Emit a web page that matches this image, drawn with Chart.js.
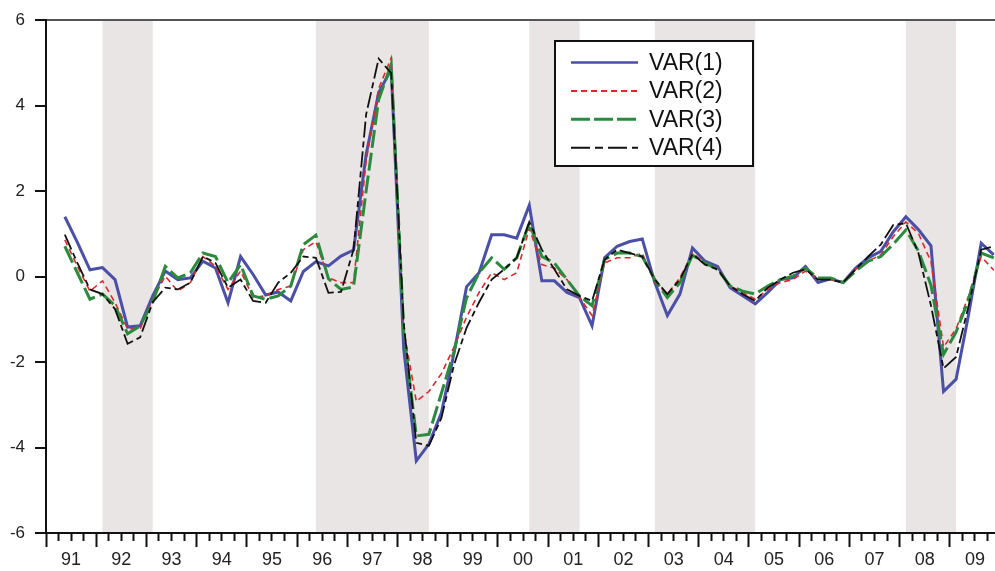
<!DOCTYPE html>
<html><head><meta charset="utf-8">
<script src="https://cdn.jsdelivr.net/npm/chart.js@4.4.1/dist/chart.umd.min.js"></script>
<style>html,body{margin:0;padding:0;background:#fff;overflow:hidden}canvas{display:block}</style>
</head><body>
<canvas id="c" width="995" height="571"></canvas>
<script>
// Quarterly observations, 1991Q2 .. 2009Q4
const startYear = 1991;
const startQuarter = 2;
const seriesNames = ['VAR(1)', 'VAR(2)', 'VAR(3)', 'VAR(4)'];
const var1 = [1.40,0.80,0.16,0.21,-0.07,-1.18,-1.15,-0.45,0.13,-0.07,-0.03,0.36,0.20,-0.61,0.47,0.05,
  -0.43,-0.36,-0.57,0.12,0.35,0.25,0.48,0.62,2.85,4.30,4.85,-1.70,-4.31,-3.92,-3.19,-1.80,
  -0.24,0.09,0.98,0.98,0.90,1.67,-0.10,-0.10,-0.37,-0.49,-1.15,0.44,0.71,0.82,0.88,-0.14,
  -0.91,-0.41,0.67,0.36,0.24,-0.26,-0.45,-0.64,-0.37,-0.07,-0.03,0.24,-0.14,-0.05,-0.14,0.20,
  0.44,0.59,1.05,1.40,1.10,0.72,-2.69,-2.40,-0.88,0.78,0.51];
const var2 = [0.86,0.24,-0.34,-0.10,-0.61,-1.22,-1.22,-0.53,0.01,-0.34,-0.14,0.47,0.24,-0.30,0.13,-0.49,
  -0.45,-0.30,-0.22,0.63,0.82,-0.03,-0.14,-0.14,2.70,4.40,5.12,-1.25,-2.92,-2.69,-2.27,-1.65,
  -0.95,-0.37,0.09,-0.07,0.09,1.13,0.28,0.20,-0.07,-0.49,-0.91,0.32,0.44,0.44,0.55,-0.14,
  -0.41,-0.03,0.55,0.32,0.20,-0.22,-0.37,-0.53,-0.30,-0.14,-0.07,0.13,-0.03,-0.07,-0.14,0.17,
  0.36,0.51,0.94,1.28,1.01,0.35,-1.65,-1.22,-0.45,0.47,0.15];
const var3 = [0.71,0.09,-0.53,-0.41,-0.68,-1.34,-1.15,-0.60,0.24,-0.03,0.09,0.55,0.47,-0.14,0.28,-0.45,
  -0.53,-0.45,-0.22,0.75,0.97,-0.05,-0.30,-0.24,2.00,4.14,4.97,-1.30,-3.73,-3.69,-2.73,-1.76,
  -0.50,0.09,0.44,0.17,0.44,1.25,0.47,0.32,-0.07,-0.45,-0.68,0.40,0.55,0.55,0.47,-0.07,
  -0.49,-0.14,0.50,0.32,0.17,-0.22,-0.34,-0.41,-0.22,-0.07,0.01,0.20,-0.03,-0.03,-0.14,0.13,
  0.36,0.47,0.76,1.09,0.60,-0.20,-1.82,-1.30,-0.53,0.55,0.44];
const var4 = [0.98,0.32,-0.30,-0.41,-0.76,-1.57,-1.42,-0.60,-0.26,-0.30,-0.14,0.47,0.32,-0.26,-0.07,-0.57,
  -0.61,-0.14,0.09,0.47,0.44,-0.38,-0.36,0.63,3.79,5.10,4.76,-1.10,-3.89,-3.96,-3.31,-2.07,
  -1.20,-0.60,-0.07,0.17,0.44,1.28,0.63,0.17,-0.30,-0.45,-0.57,0.40,0.63,0.55,0.47,-0.07,
  -0.41,-0.07,0.53,0.28,0.17,-0.22,-0.41,-0.57,-0.26,-0.07,0.09,0.17,-0.07,-0.07,-0.14,0.17,
  0.47,0.75,1.21,1.25,0.55,-0.68,-2.15,-1.88,-0.68,0.63,0.71];
// Shaded periods (from quarter to quarter)
const bandStart = [1992.125, 1996.375, 2000.625, 2003.125, 2008.125];
const bandEnd   = [1993.125, 1998.625, 2001.625, 2005.125, 2009.125];
const yearLabels = ['91','92','93','94','95','96','97','98','99','00','01','02','03','04','05','06','07','08','09'];
const yMin = -6, yMax = 6, yStep = 2;

// period positions (centre of each quarter)
const periods = var1.map((_, i) => {
  const q0 = (startQuarter - 1) + i;
  const yr = startYear + Math.floor(q0 / 4);
  const q = (q0 % 4) + 1;
  return yr + (q - 0.5) / 4;
});
const pts = arr => arr.map((v, i) => ({x: periods[i], y: v}));

const FONT = '"Liberation Sans", Arial, Helvetica, sans-serif';

const bandPlugin = {
  id: 'bands',
  beforeDraw(chart) {
    const {ctx, chartArea: a, scales: {x}} = chart;
    ctx.save();
    ctx.fillStyle = '#e8e5e4';
    bandStart.forEach((s, i) => {
      const x0 = x.getPixelForValue(s), x1 = x.getPixelForValue(bandEnd[i]);
      ctx.fillRect(x0, a.top, x1 - x0, a.bottom - a.top);
    });
    ctx.restore();
  }
};

const legendPlugin = {
  id: 'boxLegend',
  afterDatasetsDraw(chart) {
    const ctx = chart.ctx;
    ctx.save();
    ctx.fillStyle = '#ffffff';
    ctx.fillRect(555, 41, 198, 125);
    ctx.lineWidth = 2;
    ctx.strokeStyle = '#111';
    ctx.setLineDash([]);
    ctx.strokeRect(555, 41, 198, 125);
    chart.data.datasets.forEach((ds, i) => {
      const y = 62.5 + i * 28.4;
      ctx.beginPath();
      ctx.setLineDash(ds.legendDash);
      ctx.lineWidth = ds.legendWidth;
      ctx.strokeStyle = ds.borderColor;
      ctx.moveTo(571, y); ctx.lineTo(638, y);
      ctx.stroke();
      ctx.setLineDash([]);
      ctx.fillStyle = '#111';
      ctx.font = '23px ' + FONT;
      ctx.textBaseline = 'middle';
      ctx.textAlign = 'left';
      ctx.fillText(ds.label, 649, y + 1);
    });
    ctx.restore();
  }
};

new Chart(document.getElementById('c'), {
  type: 'line',
  data: {
    datasets: [
      {label: seriesNames[0], data: pts(var1), borderColor: '#4a4fa8', borderWidth: 3, borderDash: [], legendDash: [], legendWidth: 2.5, order: 4},
      {label: seriesNames[1], data: pts(var2), borderColor: '#e3262b', borderWidth: 1.6, borderDash: [6, 4], legendDash: [6, 4], legendWidth: 2, order: 3},
      {label: seriesNames[2], data: pts(var3), borderColor: '#2b8a3e', borderWidth: 3, borderDash: [18, 5], legendDash: [19, 4], legendWidth: 3, order: 2},
      {label: seriesNames[3], data: pts(var4), borderColor: '#111111', borderWidth: 1.8, borderDash: [16, 4, 6, 4], legendDash: [19, 5, 8, 5], legendWidth: 2, order: 1}
    ]
  },
  options: {
    responsive: false,
    animation: false,
    devicePixelRatio: 1,
    layout: {padding: {top: 15, right: 0, left: 0, bottom: 0}},
    elements: {point: {radius: 0}, line: {tension: 0, fill: false}},
    plugins: {legend: {display: false}, tooltip: {enabled: false}},
    scales: {
      x: {
        type: 'linear',
        min: startYear,
        max: 2009.9,
        afterFit: s => { s.height = 38; },
        border: {display: true, color: '#111', width: 2},
        grid: {
          drawOnChartArea: false,
          drawTicks: true,
          tickLength: 14,
          tickWidth: 2,
          tickColor: '#111',
          tickBorderDash: ctx => {
            const v = ctx.tick ? ctx.tick.value : 0;
            return Math.abs(v - Math.round(v)) < 1e-6 ? [] : [7, 40];
          }
        },
        ticks: {
          stepSize: 0.25,
          autoSkip: false,
          maxRotation: 0,
          minRotation: 0,
          includeBounds: false,
          padding: 2,
          color: '#222',
          font: {family: FONT, size: 18},
          callback: v => {
            const r = Math.round(v * 4) / 4;
            if (Math.abs(r - Math.floor(r) - 0.5) < 1e-6) {
              return yearLabels[Math.floor(r) - startYear] || '';
            }
            return '';
          }
        }
      },
      y: {
        type: 'linear',
        min: yMin,
        max: yMax,
        afterFit: s => { s.width = 46; },
        border: {display: true, color: '#111', width: 2},
        grid: {
          drawOnChartArea: true,
          color: ctx => (ctx.tick && ctx.tick.value === yMax) ? '#555555' : 'rgba(0,0,0,0)',
          lineWidth: 2,
          drawTicks: true,
          tickLength: 11,
          tickWidth: 2,
          tickColor: '#111'
        },
        ticks: {
          stepSize: yStep,
          padding: 10,
          color: '#222',
          font: {family: FONT, size: 17}
        }
      }
    }
  },
  plugins: [bandPlugin, legendPlugin]
});
</script>
</body></html>
